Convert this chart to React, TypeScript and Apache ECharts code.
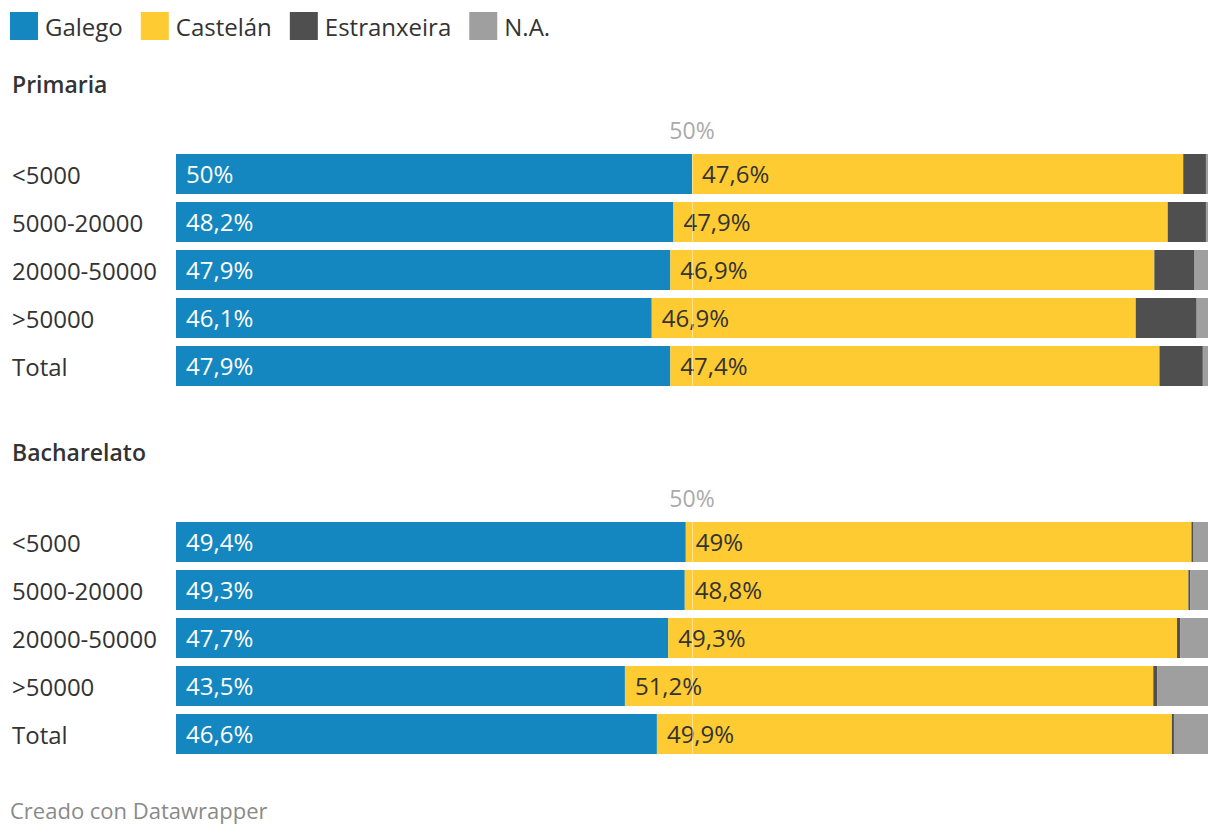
import React, { useEffect, useRef } from "react";
import * as echarts from "echarts";

const categories = ["<5000", "5000-20000", "20000-50000", ">50000", "Total"];
const seriesNames = ["Galego", "Castelán", "Estranxeira", "N.A."];
const colors = ["#1587c0", "#fecb32", "#4f4f4f", "#9f9f9f"];

const primariaGalego = [50, 48.2, 47.9, 46.1, 47.9];
const primariaCastelan = [47.6, 47.9, 46.9, 46.9, 47.4];
const primariaEstranxeira = [2.2, 3.7, 3.9, 5.9, 4.2];
const primariaNA = [0.2, 0.2, 1.3, 1.1, 0.5];

const bachGalego = [49.4, 49.3, 47.7, 43.5, 46.6];
const bachCastelan = [49, 48.8, 49.3, 51.2, 49.9];
const bachEstranxeira = [0.2, 0.2, 0.3, 0.4, 0.2];
const bachNA = [1.4, 1.7, 2.7, 4.9, 3.3];

const sectionTitles = ["Primaria", "Bacharelato"];
const footer = "Creado con Datawrapper";
const FONT = "'Open Sans', 'Noto Sans', sans-serif";

const fmt = (v: number) => String(v).replace(".", ",") + "%";

export default function App() {
  const ref = useRef<HTMLDivElement>(null);
  useEffect(() => {
    if (!ref.current) return;
    const chart = echarts.init(ref.current, undefined, { renderer: "svg" });
    const groups = [
      [primariaGalego, primariaCastelan, primariaEstranxeira, primariaNA],
      [bachGalego, bachCastelan, bachEstranxeira, bachNA],
    ];
    const gridTops = [150, 518];
    const series: any[] = [];
    groups.forEach((g, gi) => {
      g.forEach((data, si) => {
        const s: any = {
          type: "bar",
          name: seriesNames[si],
          stack: "s" + gi,
          xAxisIndex: gi,
          yAxisIndex: gi,
          data,
          barWidth: 40,
          itemStyle: { color: colors[si] },
          emphasis: { disabled: true },
          label: {
            show: si < 2,
            position: "insideLeft",
            distance: 10,
            offset: [0, -1],
            color: si === 0 ? "#ffffff" : "#333333",
            fontSize: 24,
            fontFamily: FONT,
            formatter: (p: any) => fmt(p.value),
          },
        };
        if (si === 3) {
          s.markLine = {
            silent: true,
            symbol: "none",
            label: { show: false },
            lineStyle: { color: "rgba(255,255,255,0.45)", width: 1, type: "solid" },
            data: [{ xAxis: 50 }],
          };
        }
        series.push(s);
      });
    });
    chart.setOption({
      animation: false,
      textStyle: { fontFamily: FONT },
      legend: {
        left: 10,
        top: 12,
        padding: 0,
        itemWidth: 28,
        itemHeight: 28,
        itemGap: 18,
        icon: "rect",
        data: seriesNames,
        textStyle: { fontSize: 24, color: "#333333", fontFamily: FONT, padding: [0, 0, 0, 2] },
        selectedMode: false,
      },
      title: [
        {
          text: sectionTitles[0],
          left: 7,
          top: 67,
          textStyle: { fontSize: 23, fontWeight: 600, color: "#333333", fontFamily: FONT },
        },
        {
          text: sectionTitles[1],
          left: 7,
          top: 435,
          textStyle: { fontSize: 23, fontWeight: 600, color: "#333333", fontFamily: FONT },
        },
        {
          text: footer,
          left: 5,
          top: 794,
          textStyle: { fontSize: 22, fontWeight: 400, color: "#8a8a8a", fontFamily: FONT },
        },
      ],
      grid: gridTops.map((t) => ({ left: 176, width: 1032, top: t, height: 240 })),
      xAxis: gridTops.map((_, i) => ({
        type: "value",
        gridIndex: i,
        position: "top",
        min: 0,
        max: 100,
        interval: 50,
        axisLine: { show: false },
        axisTick: { show: false },
        splitLine: { show: false },
        axisLabel: {
          margin: 9,
          color: "#aaaaaa",
          fontSize: 23,
          fontFamily: FONT,
          formatter: (v: number) => (v === 50 ? "50%" : ""),
        },
      })),
      yAxis: gridTops.map((_, i) => ({
        type: "category",
        gridIndex: i,
        data: categories,
        inverse: true,
        axisLine: { show: false },
        axisTick: { show: false },
        axisLabel: {
          align: "left",
          margin: 164,
          color: "#333333",
          fontSize: 24,
          fontFamily: FONT,
          padding: [0, 0, 3, 0],
        },
      })),
      series,
    });
    return () => chart.dispose();
  }, []);
  return (
    <div
      ref={ref}
      style={{ position: "fixed", left: 0, top: 0, width: 1220, height: 836, background: "#ffffff" }}
    />
  );
}
